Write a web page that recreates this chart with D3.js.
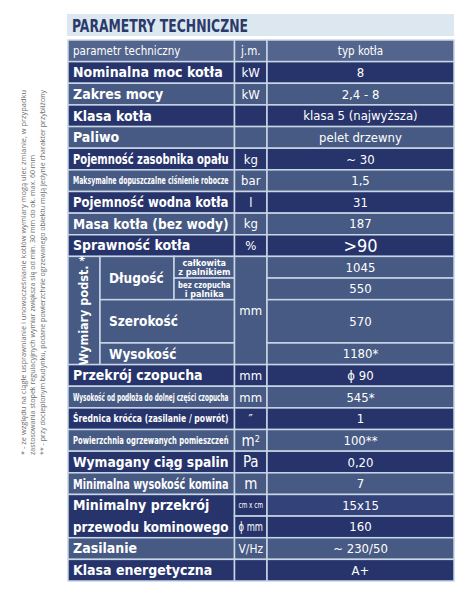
<!DOCTYPE html>
<html><head><meta charset="utf-8">
<script src="https://cdn.jsdelivr.net/npm/d3@7"></script>
<style>body{margin:0;background:#fff}svg{display:block}</style>
</head><body>
<svg id="c" width="474" height="595"></svg>
<script>
const title = "PARAMETRY TECHNICZNE";
const header = ["parametr techniczny", "j.m.", "typ kotła"];
const topLabels = ["Nominalna moc kotła","Zakres mocy","Klasa kotła","Paliwo","Pojemność zasobnika opału","Maksymalne dopuszczalne ciśnienie robocze","Pojemność wodna kotła","Masa kotła (bez wody)","Sprawność kotła"];
const topUnits = ["kW","kW","","","kg","bar","l","kg","%"];
const topValues = ["8","2,4 - 8","klasa 5 (najwyższa)","pelet drzewny","~ 30","1,5","31","187",">90"];
const dimGroup = "Wymiary podst. *";
const dimLabels = ["Długość","Szerokość","Wysokość"];
const dimSub = ["całkowita\nz palnikiem","bez czopucha\ni palnika"];
const dimUnit = "mm";
const dimValues = ["1045","550","570","1180*"];
const midLabels = ["Przekrój czopucha","Wysokość od podłoża do dolnej części czopucha","Średnica króćca (zasilanie / powrót)","Powierzchnia ogrzewanych pomieszczeń","Wymagany ciąg spalin","Minimalna wysokość komina"];
const midUnits = ["mm","mm","″","m²","Pa","m"];
const midValues = ["ϕ 90","545*","1","100**","0,20","7"];
const flueLabel = "Minimalny przekrój\nprzewodu kominowego";
const flueUnits = ["cm x cm","ϕ mm"];
const flueValues = ["15x15","160"];
const endLabels = ["Zasilanie","Klasa energetyczna"];
const endUnits = ["V/Hz",""];
const endValues = ["~ 230/50","A+"];
const notes = ["* - ze względu na ciągłe usprawnianie i unowocześnianie kotłów wymiary mogą ulec zmianie, w przypadku",
 "zastosowania stopek regulacyjnych wymiar zwiększa się od min. 30 mm do ok. max. 60 mm",
 "** - przy docieplonym budynku, podane powierzchnie ogrzewanego obiektu mają jedynie charakter przybliżony"];

const DARK="#27346c", LIGHT="#475a83", HEAD="#53658d", LINE="#c9d6e6";
const FONT="'DejaVu Sans Condensed','Liberation Sans Narrow',sans-serif";
const svg=d3.select("#c");
const y=d3.scaleLinear().domain([0,25]).range([40,581]);
const X={a:68,b:234.5,c:267,d:454,g1:100,g2:174};

svg.append("rect").attr("x",67).attr("y",14).attr("width",387).attr("height",22).attr("fill","#dce7ef");
svg.append("text").text(title).attr("x",72).attr("y",31.5).attr("font-family",FONT).attr("font-weight","bold")
 .attr("font-size",17).attr("fill","#2a3a6a").attr("textLength",176).attr("lengthAdjust","spacingAndGlyphs");

const cells=[];
function cell(s,n,x0,x1,text,o){cells.push(Object.assign({s,n,x0,x1,text},o));}
let r=0;
const big={weight:"bold",size:14,anchor:"start"};
cell(r,1,X.a,X.b,header[0],{fill:HEAD,size:11.5,anchor:"start"});
cell(r,1,X.b,X.c,header[1],{fill:HEAD,size:11.5});
cell(r,1,X.c,X.d,header[2],{fill:HEAD,size:11.5}); r++;
topLabels.forEach((l,i)=>{
  const f=i%2===0?DARK:LIGHT;
  const small=l.length>30;
  cell(r,1,X.a,X.b,l,Object.assign({fill:f},big,small?{size:10}:{}));
  cell(r,1,X.b,X.c,topUnits[i],{fill:f,size:13});
  cell(r,1,X.c,X.d,topValues[i],{fill:f,size:topValues[i]===">90"?18:13}); r++;
});
const d0=r;
cell(d0,5,X.a,X.g1,"",{fill:LIGHT});
cell(d0,2,X.g1,X.g2,dimLabels[0],{fill:LIGHT,weight:"bold",size:13.5,anchor:"start",pad:9});
cell(d0,1,X.g2,X.b,dimSub[0],{fill:LIGHT,weight:"bold",size:9});
cell(d0+1,1,X.g2,X.b,dimSub[1],{fill:LIGHT,weight:"bold",size:9});
cell(d0+2,2,X.g1,X.b,dimLabels[1],{fill:LIGHT,weight:"bold",size:13.5,anchor:"start",pad:9});
cell(d0+4,1,X.g1,X.b,dimLabels[2],{fill:LIGHT,weight:"bold",size:13.5,anchor:"start",pad:9});
cell(d0,5,X.b,X.c,dimUnit,{fill:LIGHT,size:13});
[[0,1],[1,1],[2,2],[4,1]].forEach(([o,n],i)=>cell(d0+o,n,X.c,X.d,dimValues[i],{fill:LIGHT,size:13}));
r=d0+5;
midLabels.forEach((l,i)=>{
  const f=i%2===0?DARK:LIGHT;
  const small=l.length>30;
  cell(r,1,X.a,X.b,l,Object.assign({fill:f},big,small?{size:10.5}:{}));
  cell(r,1,X.b,X.c,midUnits[i],{fill:f,size:["m²","Pa","m"].includes(midUnits[i])?15:13});
  cell(r,1,X.c,X.d,midValues[i],{fill:f,size:13}); r++;
});
cell(r,2,X.a,X.b,flueLabel,Object.assign({fill:DARK},big));
flueUnits.forEach((u,i)=>{cell(r+i,1,X.b,X.c,u,{fill:DARK,size:u.length>5?9:12});
  cell(r+i,1,X.c,X.d,flueValues[i],{fill:i===0?"#34427a":DARK,size:13});});
r+=2;
endLabels.forEach((l,i)=>{
  const f=i%2===0?LIGHT:DARK;
  cell(r,1,X.a,X.b,l,Object.assign({fill:f},big));
  cell(r,1,X.b,X.c,endUnits[i],{fill:f,size:13});
  cell(r,1,X.c,X.d,endValues[i],{fill:f,size:13}); r++;
});

const g=svg.append("g");
cells.forEach(c=>{
  const y0=y(c.s), y1=y(c.s+c.n), w=c.x1-c.x0;
  g.append("rect").attr("x",c.x0).attr("y",y0).attr("width",w).attr("height",y1-y0)
   .attr("fill",c.fill).attr("stroke",LINE).attr("stroke-width",1.5);
  if(!c.text) return;
  const lines=c.text.split("\n");
  const anchor=c.anchor||"middle";
  const pad=c.pad||5;
  const tx=anchor==="start"?c.x0+pad:(c.x0+c.x1)/2;
  const lh=c.size*(lines.length>1&&c.n===1?1.0:1.55);
  const cy=(y0+y1)/2;
  lines.forEach((ln,k)=>{
    const t=g.append("text").attr("x",tx).attr("y",cy+(k-(lines.length-1)/2)*lh).attr("dy","0.35em")
     .attr("text-anchor",anchor).attr("font-family",FONT).attr("font-weight",c.weight||"normal")
     .attr("font-size",c.size).attr("fill","#fff");
    if(ln==="m²"){t.text("m");t.append("tspan").attr("dy","-0.45em").attr("font-size",9).text("2");}
    else t.text(ln);
    const maxw=w-(anchor==="start"?pad+6:8);
    const tw=t.node().getComputedTextLength();
    if(tw>maxw) t.attr("textLength",maxw).attr("lengthAdjust","spacingAndGlyphs");
  });
});
g.append("text").text(dimGroup).attr("transform",`translate(${(X.a+X.g1)/2},${(y(d0)+y(d0+5))/2}) rotate(-90)`)
 .attr("dy","0.35em").attr("text-anchor","middle").attr("font-family",FONT).attr("font-weight","bold")
 .attr("font-size",12.5).attr("fill","#fff");

const nx=[23,32,42];
notes.forEach((n,i)=>{
  svg.append("text").text(n).attr("transform",`translate(${nx[i]},455) rotate(-90)`)
   .attr("font-family","'Open Sans',sans-serif").attr("font-size",7.6).attr("fill","#6d6d6d")
   .attr("dy","0.35em").attr("textLength",i===1?300:365).attr("lengthAdjust","spacingAndGlyphs");
});
</script></body></html>
